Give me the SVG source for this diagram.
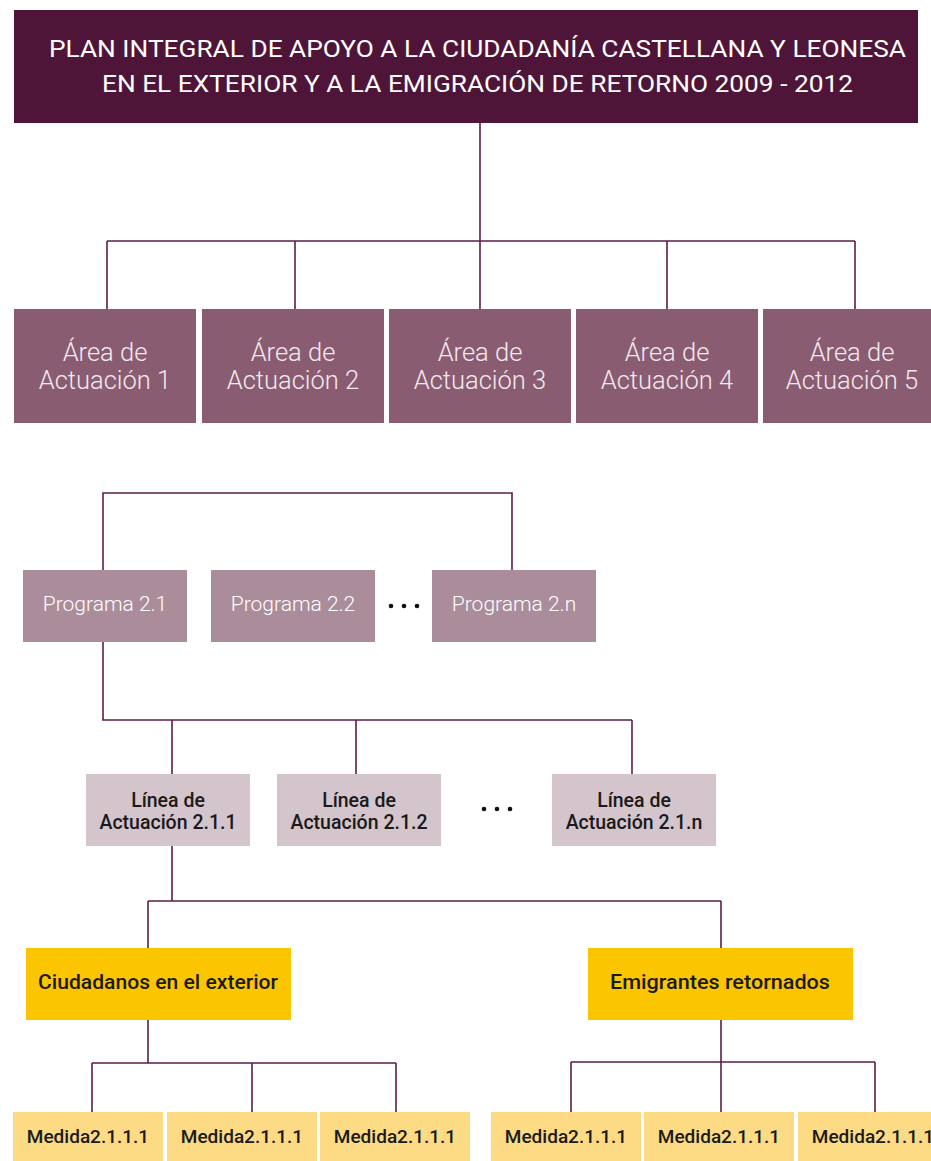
<svg xmlns="http://www.w3.org/2000/svg" width="931" height="1161" viewBox="0 0 931 1161">
<style>
  .conn { fill: none; stroke: #5a1d48; stroke-width: 1.6; }
  .title-box { fill: #4f1538; }
  .title { font-family: Roboto, "Liberation Sans", sans-serif; font-size: 24px; fill: #ffffff; text-anchor: middle; }
  .area-box { fill: #8a5c72; }
  .area { font-family: Roboto, "Liberation Sans", sans-serif; font-weight: 300; font-size: 25.5px; fill: #f3e9ee; text-anchor: middle; }
  .prog-box { fill: #ab8c9a; }
  .prog { font-family: Roboto, "Liberation Sans", sans-serif; font-weight: 300; font-size: 21px; fill: #ffffff; text-anchor: middle; }
  .linea-box { fill: #d4c4cc; }
  .linea { font-family: Roboto, "Liberation Sans", sans-serif; font-weight: 500; font-size: 19.5px; fill: #1a1a1a; text-anchor: middle; }
  .group-box { fill: #fbc600; }
  .medida-box { fill: #fddb85; }
  .dark { font-family: Roboto, "Liberation Sans", sans-serif; font-weight: 500; font-size: 20px; fill: #1a1a1a; text-anchor: middle; }
  .med { font-family: Roboto, "Liberation Sans", sans-serif; font-weight: 500; font-size: 19px; fill: #1a1a1a; text-anchor: middle; }
  .dots { fill: #111111; }
</style>
<rect width="931" height="1161" fill="#ffffff"/>

<g id="connectors">
  <path class="conn" d="M480 123 V241 M107 241 H855 M107 241 V309 M295 241 V309 M480 241 V309 M667 241 V309 M855 241 V309"/>
  <path class="conn" d="M103 570 V493 H512 V570"/>
  <path class="conn" d="M103 642 V720 H632 M172 720 V774 M356 720 V774 M632 720 V774"/>
  <path class="conn" d="M172 846 V901 M148 901 H721 M148 901 V948 M721 901 V948"/>
  <path class="conn" d="M148 1020 V1063 M92 1063 H396 M92 1063 V1112 M252 1063 V1112 M396 1063 V1112"/>
  <path class="conn" d="M721 1020 V1062 M571 1062 H875 M571 1062 V1112 M721 1062 V1112 M875 1062 V1112"/>
</g>

<g id="title">
  <rect class="title-box" x="14" y="10" width="904" height="113"/>
  <text class="title" x="477.5" y="57" textLength="857" lengthAdjust="spacingAndGlyphs">PLAN INTEGRAL DE APOYO A LA CIUDADANÍA CASTELLANA Y LEONESA</text>
  <text class="title" x="477.5" y="92" textLength="751" lengthAdjust="spacingAndGlyphs">EN EL EXTERIOR Y A LA EMIGRACIÓN DE RETORNO 2009 - 2012</text>
</g>

<g id="area1">
  <rect class="area-box" x="14" y="309" width="182" height="114"/>
  <text class="area" x="105" y="361">Área de</text>
  <text class="area" x="105" y="389">Actuación 1</text>
</g>
<g id="area2">
  <rect class="area-box" x="202" y="309" width="182" height="114"/>
  <text class="area" x="293" y="361">Área de</text>
  <text class="area" x="293" y="389">Actuación 2</text>
</g>
<g id="area3">
  <rect class="area-box" x="389" y="309" width="182" height="114"/>
  <text class="area" x="480" y="361">Área de</text>
  <text class="area" x="480" y="389">Actuación 3</text>
</g>
<g id="area4">
  <rect class="area-box" x="576" y="309" width="182" height="114"/>
  <text class="area" x="667" y="361">Área de</text>
  <text class="area" x="667" y="389">Actuación 4</text>
</g>
<g id="area5">
  <rect class="area-box" x="763" y="309" width="182" height="114"/>
  <text class="area" x="852" y="361">Área de</text>
  <text class="area" x="852" y="389">Actuación 5</text>
</g>

<g id="prog21">
  <rect class="prog-box" x="23" y="570" width="164" height="72"/>
  <text class="prog" x="105" y="611">Programa 2.1</text>
</g>
<g id="prog22">
  <rect class="prog-box" x="211" y="570" width="164" height="72"/>
  <text class="prog" x="293" y="611">Programa 2.2</text>
</g>
<g id="prog-dots">
  <circle class="dots" cx="391" cy="606" r="2.3"/>
  <circle class="dots" cx="404" cy="606" r="2.3"/>
  <circle class="dots" cx="417" cy="606" r="2.3"/>
</g>
<g id="prog2n">
  <rect class="prog-box" x="432" y="570" width="164" height="72"/>
  <text class="prog" x="514" y="611">Programa 2.n</text>
</g>

<g id="linea211">
  <rect class="linea-box" x="86" y="774" width="164" height="72"/>
  <text class="linea" x="168" y="807">Línea de</text>
  <text class="linea" x="168" y="829">Actuación 2.1.1</text>
</g>
<g id="linea212">
  <rect class="linea-box" x="277" y="774" width="164" height="72"/>
  <text class="linea" x="359" y="807">Línea de</text>
  <text class="linea" x="359" y="829">Actuación 2.1.2</text>
</g>
<g id="linea-dots">
  <circle class="dots" cx="484" cy="809" r="2.3"/>
  <circle class="dots" cx="497" cy="809" r="2.3"/>
  <circle class="dots" cx="510" cy="809" r="2.3"/>
</g>
<g id="linea21n">
  <rect class="linea-box" x="552" y="774" width="164" height="72"/>
  <text class="linea" x="634" y="807">Línea de</text>
  <text class="linea" x="634" y="829">Actuación 2.1.n</text>
</g>

<g id="ciudadanos">
  <rect class="group-box" x="26" y="948" width="265" height="72"/>
  <text class="dark" x="158" y="989" textLength="240" lengthAdjust="spacingAndGlyphs">Ciudadanos en el exterior</text>
</g>
<g id="emigrantes">
  <rect class="group-box" x="588" y="948" width="265" height="72"/>
  <text class="dark" x="720" y="989" textLength="220" lengthAdjust="spacingAndGlyphs">Emigrantes retornados</text>
</g>

<g id="medida1">
  <rect class="medida-box" x="13" y="1112" width="150" height="49"/>
  <text class="med" x="88" y="1143">Medida2.1.1.1</text>
</g>
<g id="medida2">
  <rect class="medida-box" x="167" y="1112" width="150" height="49"/>
  <text class="med" x="242" y="1143">Medida2.1.1.1</text>
</g>
<g id="medida3">
  <rect class="medida-box" x="320" y="1112" width="150" height="49"/>
  <text class="med" x="395" y="1143">Medida2.1.1.1</text>
</g>
<g id="medida4">
  <rect class="medida-box" x="491" y="1112" width="150" height="49"/>
  <text class="med" x="566" y="1143">Medida2.1.1.1</text>
</g>
<g id="medida5">
  <rect class="medida-box" x="644" y="1112" width="150" height="49"/>
  <text class="med" x="719" y="1143">Medida2.1.1.1</text>
</g>
<g id="medida6">
  <rect class="medida-box" x="798" y="1112" width="150" height="49"/>
  <text class="med" x="873" y="1143">Medida2.1.1.1</text>
</g>
</svg>
